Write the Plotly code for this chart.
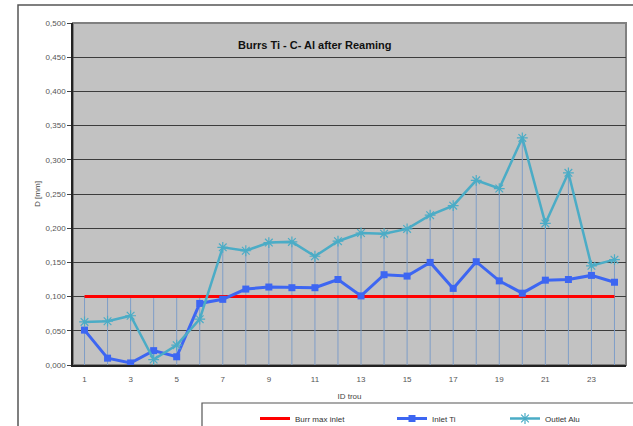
import plotly.graph_objects as go

holes = list(range(1, 25))
burr_max_inlet = [0.100] * 24
inlet_ti = [0.051, 0.010, 0.003, 0.021, 0.012, 0.090, 0.096, 0.111, 0.114, 0.113, 0.113, 0.125,
            0.101, 0.132, 0.130, 0.150, 0.112, 0.151, 0.123, 0.105, 0.124, 0.125, 0.131, 0.121]
outlet_alu = [0.063, 0.064, 0.072, 0.008, 0.029, 0.067, 0.172, 0.167, 0.179, 0.180, 0.159, 0.181,
              0.193, 0.192, 0.199, 0.219, 0.233, 0.270, 0.258, 0.332, 0.207, 0.281, 0.145, 0.154]
x_ticks = [1, 3, 5, 7, 9, 11, 13, 15, 17, 19, 21, 23]

W, H = 633, 426
L, R, T, B = 73, 7, 23, 61
pw, ph = W - L - R, H - T - B

def px(xp):
    return (xp - L) / pw

def py(yp):
    return (H - B - yp) / ph

FONT = "Liberation Sans Narrow, Arial Narrow, Liberation Sans, Arial"
LEG_FONT = dict(family=FONT, size=8, color="#333333")

# drop lines from highest value at each hole down to the axis
dx, dy = [], []
for i, h in enumerate(holes):
    top = max(burr_max_inlet[i], inlet_ti[i], outlet_alu[i])
    dx += [h, h, None]
    dy += [0, top, None]

fig = go.Figure()
fig.add_trace(go.Scatter(x=dx, y=dy, mode="lines", line=dict(color="#7f9ec8", width=1),
                         showlegend=False, hoverinfo="skip"))
fig.add_trace(go.Scatter(x=holes, y=burr_max_inlet, name="Burr max inlet", mode="lines",
                         line=dict(color="#ff0000", width=3), legend="legend"))
fig.add_trace(go.Scatter(x=holes, y=inlet_ti, name="Inlet Ti", mode="lines+markers",
                         line=dict(color="#3d66f2", width=3),
                         marker=dict(symbol="square", size=7, color="#3d66f2"), legend="legend2"))
fig.add_trace(go.Scatter(x=holes, y=outlet_alu, name="Outlet Alu", mode="lines+markers",
                         line=dict(color="#4bacc6", width=2.5),
                         marker=dict(symbol="asterisk-open", size=9,
                                     line=dict(color="#4bacc6", width=1.2)), legend="legend3"))

def leg(xp):
    return dict(orientation="h", x=px(xp), y=py(404), xanchor="left", yanchor="top",
                bgcolor="rgba(0,0,0,0)", font=LEG_FONT, itemwidth=30)

fig.update_layout(
    width=W, height=H,
    margin=dict(l=L, r=R, t=T, b=B, autoexpand=False),
    paper_bgcolor="white",
    plot_bgcolor="#c2c2c2",
    separators=",.",
    font=dict(family=FONT, size=8, color="#444444"),
    showlegend=True,
    legend=leg(255),
    legend2=leg(392),
    legend3=leg(505),
    xaxis=dict(range=[0.5, 24.5], tickmode="array", tickvals=x_ticks,
               ticktext=[str(v) for v in x_ticks], showgrid=False, zeroline=False,
               showline=True, linecolor="#222222", linewidth=1.5, ticks="outside", ticklen=6,
               tickcolor="rgba(0,0,0,0)",
               tickfont=dict(size=8, color="#555555"),
               title=dict(text="ID trou", font=dict(size=8, color="#444444"), standoff=10)),
    yaxis=dict(range=[0, 0.5], dtick=0.05, tickformat=".3f", showgrid=True,
               gridcolor="#3c3c3c", gridwidth=1, zeroline=False, showline=True,
               linecolor="#222222", linewidth=1.5, ticks="outside", ticklen=4,
               tickcolor="#444444", tickfont=dict(size=8, color="#555555"),
               title=dict(text="D [mm]", font=dict(size=8, color="#444444"), standoff=4)),
    shapes=[
        dict(type="rect", xref="paper", yref="paper", x0=px(18), x1=px(660), y0=py(5), y1=py(460),
             line=dict(color="#555555", width=1.5), fillcolor="rgba(0,0,0,0)", layer="below"),
        dict(type="rect", xref="paper", yref="paper", x0=0, x1=1, y0=0, y1=1,
             line=dict(color="#808080", width=2), fillcolor="rgba(0,0,0,0)", layer="below"),
        dict(type="rect", xref="paper", yref="paper", x0=px(202), x1=px(660), y0=py(403), y1=py(460),
             line=dict(color="#555555", width=1.2), fillcolor="rgba(0,0,0,0)", layer="above"),
    ],
    annotations=[
        dict(text="<b>Burrs Ti - C- Al after Reaming</b>", xref="paper", yref="paper",
             x=px(314), y=py(45), xanchor="center", yanchor="middle", showarrow=False,
             font=dict(family=FONT, size=11, color="#111111")),
    ],
)

fig.write_html("out.html", config={"displayModeBar": False},
               post_script="document.body.style.margin='0';document.body.style.overflow='hidden';")
